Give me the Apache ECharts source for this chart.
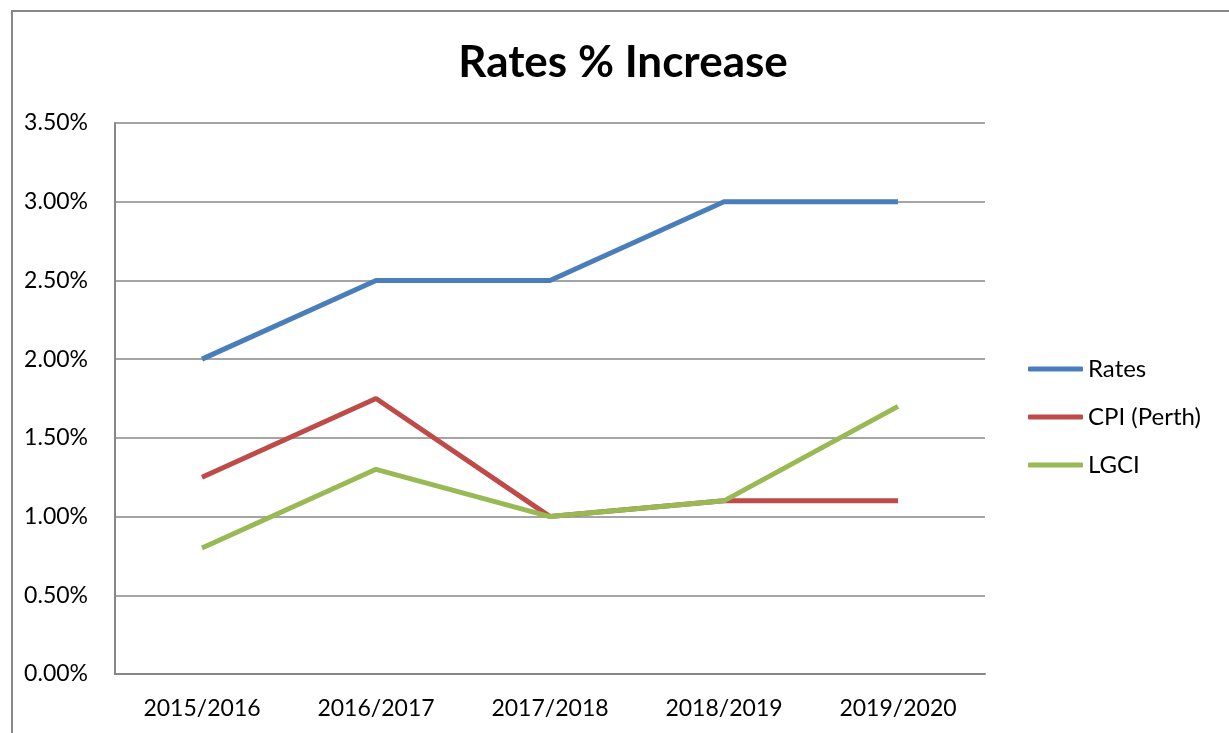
<!DOCTYPE html>
<html>
<head>
<meta charset="utf-8">
<script src="https://cdn.jsdelivr.net/npm/echarts@6/dist/echarts.min.js"></script>
<style>
  html, body { margin: 0; padding: 0; background: #fff; overflow: hidden; }
  #frame { position: absolute; left: 11px; top: 10px; width: 1400px; height: 900px; border: 2px solid #878787; }
  #main { position: absolute; left: 0; top: 0; width: 1229px; height: 733px; }
</style>
</head>
<body>
<div id="frame"></div>
<div id="main"></div>
<script>
// data
var years = ["2015/2016", "2016/2017", "2017/2018", "2018/2019", "2019/2020"];
var rates = [2.0, 2.5, 2.5, 3.0, 3.0];
var cpiPerth = [1.25, 1.75, 1.0, 1.1, 1.1];
var lgci = [0.8, 1.3, 1.0, 1.1, 1.7];

var font = "Lato, 'Open Sans', sans-serif";

var myChart = echarts.init(document.getElementById("main"), null, { renderer: "canvas" });

var option = {
  backgroundColor: "transparent",
  animation: false,
  title: {
    text: "Rates % Increase",
    left: 618,
    textAlign: "center",
    top: 36,
    textStyle: { fontFamily: font, fontSize: 44, fontWeight: "bold", color: "#000" }
  },
  legend: {
    orient: "vertical",
    left: 1028,
    top: 357,
    padding: 0,
    itemWidth: 55,
    itemHeight: 5,
    itemGap: 24,
    icon: "roundRect",
    textStyle: { fontFamily: font, fontSize: 24, color: "#000" },
    data: ["Rates", "CPI (Perth)", "LGCI"]
  },
  grid: { left: 115, right: 244, top: 123, bottom: 59 },
  xAxis: {
    type: "category",
    data: years,
    boundaryGap: true,
    axisTick: { show: false },
    axisLine: { lineStyle: { color: "#878787", width: 2 } },
    axisLabel: { fontFamily: font, fontSize: 23, color: "#000", margin: 23 }
  },
  yAxis: {
    type: "value",
    min: 0,
    max: 3.5,
    interval: 0.5,
    axisLine: { show: true, lineStyle: { color: "#878787", width: 2 } },
    axisTick: { show: false },
    splitLine: { lineStyle: { color: "#878787", width: 1.5 } },
    axisLabel: {
      fontFamily: font, fontSize: 23, color: "#000", margin: 27,
      formatter: function (v) { return v.toFixed(2) + "%"; }
    }
  },
  series: [
    { name: "Rates", type: "line", data: rates, showSymbol: false, color: "#4a7ebb",
      lineStyle: { width: 5, color: "#4a7ebb" } },
    { name: "CPI (Perth)", type: "line", data: cpiPerth, showSymbol: false, color: "#be4b48",
      lineStyle: { width: 5, color: "#be4b48" } },
    { name: "LGCI", type: "line", data: lgci, showSymbol: false, color: "#98b954",
      lineStyle: { width: 5, color: "#98b954" } }
  ]
};

myChart.setOption(option);
window.addEventListener("resize", myChart.resize);
</script>
</body>
</html>
